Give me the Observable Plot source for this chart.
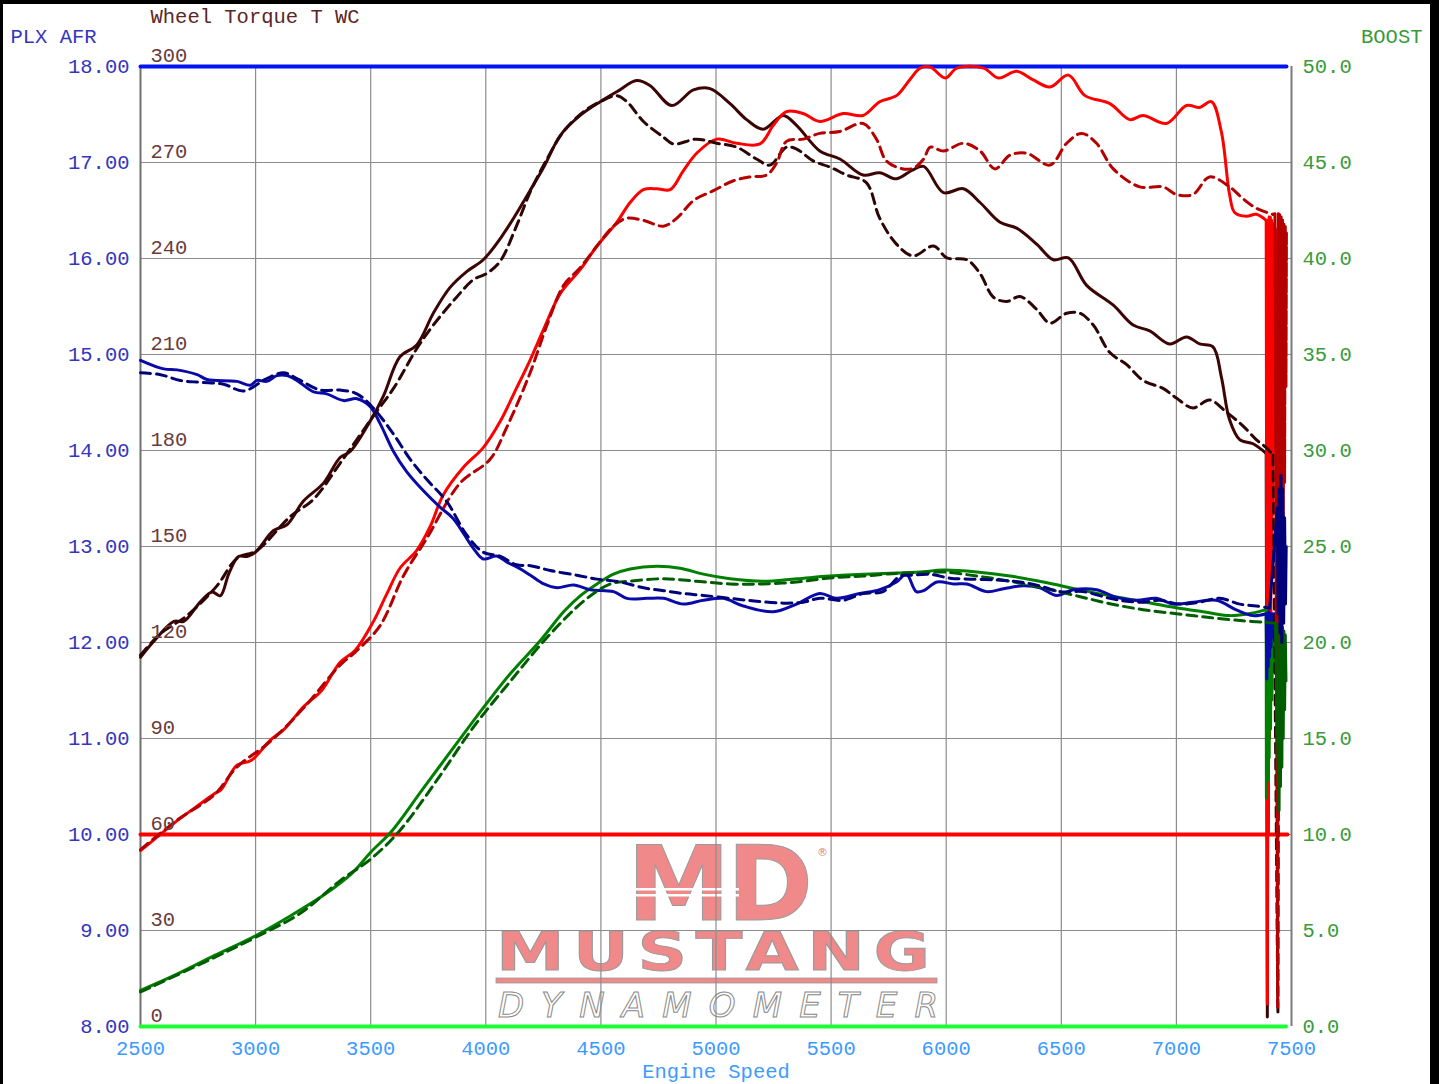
<!DOCTYPE html>
<html><head><meta charset="utf-8">
<script src="https://cdn.jsdelivr.net/npm/d3@7"></script>
<script src="https://cdn.jsdelivr.net/npm/@observablehq/plot@0.6"></script>
<style>
html,body{margin:0;padding:0;background:#000;width:1439px;height:1084px;overflow:hidden;}
#page{position:absolute;left:3px;top:4px;width:1427px;height:1080px;background:#fff;overflow:hidden;}
#logo{position:absolute;left:0;top:0;}
#chart{position:absolute;left:0;top:0;}
</style></head><body>
<div id="page">
<svg id="logo" width="1427" height="1080">
  <text x="624" y="916" font-family="DejaVu Sans" font-weight="bold" font-size="104" textLength="186" lengthAdjust="spacing" fill="#f08a8a" stroke="#9a9a9a" stroke-width="1">MD</text>
  <rect x="624" y="884" width="112" height="2.5" fill="#fff"/>
  <rect x="624" y="890" width="112" height="2.5" fill="#fff"/>
  <text x="814" y="852" font-family="DejaVu Sans" font-size="11" fill="#e08080">®</text>
  <g transform="translate(493,966) scale(1.3,1)">
    <text x="0" y="0" font-family="DejaVu Sans" font-weight="600" font-size="53" letter-spacing="6.5" fill="#f08a8a" stroke="#999" stroke-width="0.9">MUSTANG</text>
  </g>
  <rect x="493" y="974" width="441" height="5" fill="#f08a8a" stroke="#999" stroke-width="0.8"/>
  <text x="495" y="1013" font-family="DejaVu Sans" font-style="italic" font-size="34" textLength="440" lengthAdjust="spacing" fill="#fff" stroke="#888" stroke-width="1">DYNAMOMETER</text>
</svg>
<div id="chart"></div>
</div>
<script>
// ---- tick values ----
const rpmTicks = [2500,3000,3500,4000,4500,5000,5500,6000,6500,7000,7500];
const afrTicks = [8,9,10,11,12,13,14,15,16,17,18];
const torqueTicks = [0,30,60,90,120,150,180,210,240,270,300];
const boostTicks = [0,5,10,15,20,25,30,35,40,45,50];

// ---- Wheel torque (run 1 solid, run 2 dashed) ----
const torqueRun1 = [[2500,115.4],[2558,120.4],[2645,126.6],[2688,126.6],[2760,132.7],[2811,135.8],[2847,134.6],[2883,141.4],[2926,146.9],[2963,146.9],[2999,148.2],[3078,155.0],[3136,156.8],[3208,164.2],[3295,169.8],[3367,177.8],[3411,179.7],[3497,189.1],[3555,197.0],[3627,209.3],[3700,213.0],[3772,222.9],[3844,230.9],[3917,235.9],[3989,239.6],[4076,247.6],[4192,261.2],[4252,268.6],[4324,278.5],[4410,284.7],[4497,289.0],[4569,292.1],[4656,295.6],[4714,294.0],[4808,287.8],[4902,292.7],[4974,293.1],[5061,288.4],[5133,283.4],[5205,280.4],[5292,284.7],[5350,281.6],[5451,273.6],[5538,271.1],[5639,266.1],[5711,266.8],[5784,264.9],[5850,267.5],[5902,268.8],[5988,260.6],[6075,261.8],[6147,257.5],[6234,251.3],[6306,249.5],[6393,244.5],[6465,239.6],[6531,240.2],[6610,231.6],[6726,225.4],[6812,219.2],[6884,217.4],[6971,213.3],[7044,215.5],[7101,213.3],[7159,212.4],[7195,203.1],[7231,189.6],[7275,183.4],[7333,182.1],[7390,179.1]];
const torqueRun1Tail = [[7390,179.1],[7395,3],[7400,180]];
const torqueRun2 = [[2500,116],[2587,122.8],[2702,128.4],[2832,137.7],[2919,146.3],[3006,148.8],[3150,159.3],[3252,164.8],[3367,176.0],[3512,190.8],[3599,199.4],[3700,211.8],[3772,219.2],[3873,227.9],[3946,233.4],[4003,235.3],[4061,239.0],[4133,250.1],[4194,261],[4266,271.1],[4338,279.7],[4425,285.9],[4497,289.0],[4569,290.9],[4613,289.0],[4685,282.8],[4772,277.9],[4815,275.8],[4916,277.3],[5003,276.0],[5090,274.8],[5176,271.1],[5234,269.2],[5306,274.8],[5350,274.2],[5422,270.5],[5494,268.6],[5567,266.1],[5653,263.7],[5711,252.6],[5784,244.5],[5856,240.8],[5945,243.9],[6003,240.2],[6090,239.6],[6147,235.3],[6205,227.9],[6263,226.6],[6321,228.1],[6393,224.1],[6451,219.8],[6523,222.9],[6581,222.9],[6639,219.2],[6711,210.6],[6783,206.9],[6855,201.9],[6942,199.4],[7000,196.4],[7072,193.3],[7144,195.8],[7217,192.0],[7289,187.7],[7347,183.4],[7390,180.9],[7420,178.5]];
const torqueRun2Tail = [[7420,178.5],[7441,4],[7446,178]];

// ---- Wheel power (run 1 solid, run 2 dashed), torque scale ----
const powerRun1 = [[2500,55.0],[2564,58.7],[2661,64.4],[2741,68.6],[2822,72.8],[2850,74],[2918,81.6],[2982,83.2],[3063,89.4],[3127,93.1],[3208,99.9],[3288,105.1],[3368,113.9],[3433,117.6],[3512,126.6],[3570,135.2],[3627,143.2],[3700,148.8],[3758,156.2],[3815,166.1],[3902,174.7],[3989,180.9],[4061,188.9],[4133,199.4],[4194,208.5],[4252,218.0],[4324,229.1],[4410,236.5],[4483,243.9],[4569,251.3],[4627,257.5],[4685,261.5],[4743,261.8],[4801,261.5],[4858,267.4],[4916,272.9],[5003,277.3],[5090,276.0],[5191,275.8],[5249,281.6],[5306,285.9],[5379,285.3],[5451,282.8],[5552,285.3],[5639,284.7],[5711,289.0],[5784,290.9],[5841,295.8],[5887,299.5],[5931,299.8],[5996,296.4],[6047,299.5],[6162,299.5],[6227,296.4],[6306,298.5],[6378,295.8],[6451,293.6],[6531,297.3],[6603,290.9],[6711,288.4],[6798,283.4],[6855,284.7],[6957,282.2],[7044,287.8],[7101,287.2],[7152,289.0],[7195,279.7],[7231,260.0],[7253,254.4],[7304,253.2],[7347,253.8],[7390,251.9]];
const powerRun1Tail = [[7390,251.9],[7395,7],[7398,252],[7400,60],[7403,253],[7405,90],[7408,253],[7410,110],[7413,252],[7415,140],[7418,251],[7420,160],[7423,250],[7425,180],[7428,250],[7430,200],[7433,249]];
const powerRun2 = [[2500,55.3],[2661,64.6],[2822,72.5],[2918,81],[3063,89],[3208,99.5],[3368,113],[3433,117],[3541,125.3],[3642,140.8],[3743,152.5],[3888,169.8],[4018,177.2],[4090,187.1],[4191,204],[4266,219.2],[4338,231.6],[4410,237.1],[4483,243.9],[4555,250.1],[4613,252.6],[4685,251.9],[4772,250.1],[4830,252.6],[4902,258.1],[4989,261.2],[5076,264.3],[5148,265.5],[5220,266.1],[5263,269.8],[5306,276.6],[5379,277.3],[5451,279.1],[5538,279.7],[5639,282.2],[5697,277.3],[5740,270.5],[5812,268.0],[5860,268.3],[5902,271.1],[5931,274.8],[5988,273.6],[6075,276.0],[6147,273.6],[6212,268.0],[6277,272.3],[6350,272.9],[6451,269.2],[6523,276.0],[6588,279.1],[6653,276.0],[6726,268.0],[6841,262.4],[6942,262.4],[7000,260.0],[7072,260.0],[7144,265.5],[7231,262.4],[7289,258.7],[7347,255.7],[7419,253.8]];
const powerRun2Tail = [[7419,253.8],[7428,254],[7440,6],[7443,254],[7446,80],[7449,254],[7452,110],[7455,253],[7458,130],[7461,252],[7464,150],[7467,251],[7470,170],[7473,250],[7476,200],[7478,248]];

// ---- PLX AFR (run 1 solid, run 2 dashed) ----
const afrRun1 = [[2500,14.94],[2601,14.85],[2659,14.84],[2746,14.79],[2789,14.74],[2919,14.72],[2977,14.68],[3006,14.73],[3049,14.72],[3093,14.78],[3136,14.78],[3179,14.73],[3252,14.61],[3309,14.59],[3382,14.52],[3440,14.54],[3497,14.46],[3541,14.28],[3599,13.99],[3656,13.78],[3729,13.58],[3801,13.41],[3859,13.29],[3946,12.98],[3989,12.87],[4047,12.90],[4090,12.84],[4148,12.77],[4194,12.70],[4252,12.61],[4309,12.57],[4381,12.60],[4454,12.55],[4555,12.53],[4613,12.46],[4700,12.46],[4772,12.46],[4858,12.40],[4945,12.44],[5032,12.46],[5119,12.38],[5249,12.32],[5350,12.40],[5451,12.51],[5523,12.46],[5624,12.51],[5711,12.55],[5784,12.63],[5827,12.71],[5870,12.53],[5902,12.54],[5960,12.63],[6032,12.61],[6090,12.61],[6176,12.53],[6249,12.56],[6335,12.59],[6407,12.57],[6480,12.49],[6552,12.55],[6653,12.55],[6740,12.47],[6827,12.44],[6913,12.46],[6986,12.40],[7072,12.42],[7173,12.44],[7260,12.34],[7333,12.28],[7390,12.30]];
const afrRun1Tail = [[7390,12.30],[7393,11.62],[7396,12.3],[7399,11.75],[7402,12.32],[7405,11.85],[7408,12.3],[7411,11.95],[7414,12.3],[7417,12.05],[7420,12.3],[7424,12.15],[7428,12.3]];
const afrRun2 = [[2500,14.81],[2587,14.79],[2673,14.73],[2760,14.71],[2861,14.69],[2948,14.62],[3049,14.75],[3122,14.81],[3179,14.75],[3281,14.63],[3367,14.63],[3440,14.59],[3512,14.44],[3599,14.17],[3671,13.91],[3743,13.70],[3830,13.47],[3917,13.12],[3989,12.94],[4061,12.90],[4133,12.81],[4194,12.80],[4280,12.75],[4396,12.70],[4483,12.66],[4584,12.63],[4685,12.57],[4772,12.54],[4858,12.51],[4945,12.49],[5061,12.46],[5176,12.43],[5292,12.41],[5379,12.42],[5451,12.46],[5552,12.44],[5639,12.51],[5726,12.53],[5798,12.69],[5844,12.70],[5931,12.71],[6017,12.67],[6104,12.66],[6220,12.65],[6321,12.63],[6407,12.59],[6494,12.53],[6595,12.53],[6711,12.46],[6783,12.43],[6855,12.42],[6928,12.44],[7015,12.40],[7101,12.42],[7188,12.46],[7275,12.40],[7347,12.38],[7405,12.36]];
const afrRun2Tail = [[7405,12.36],[7438,13.4],[7442,12.3],[7446,13.6],[7450,12.1],[7454,13.74],[7458,12.0],[7462,13.6],[7466,12.2],[7470,13.3],[7474,12.4],[7477,13.0]];

// ---- Boost (run 1 solid, run 2 dashed) ----
const boostRun1 = [[2500,1.88],[2661,2.74],[2822,3.70],[3002,4.74],[3143,5.70],[3304,6.91],[3417,7.96],[3502,9.1],[3593,10.2],[3722,12.3],[3883,14.9],[4002,16.8],[4108,18.4],[4237,20.1],[4338,21.6],[4410,22.43],[4483,23.05],[4555,23.56],[4627,23.83],[4743,23.97],[4844,23.87],[4945,23.56],[5061,23.32],[5205,23.19],[5350,23.32],[5494,23.46],[5639,23.56],[5784,23.62],[5885,23.67],[5988,23.77],[6133,23.67],[6277,23.46],[6422,23.15],[6567,22.78],[6711,22.43],[6855,22.12],[7000,21.81],[7116,21.6],[7231,21.4],[7333,21.54],[7390,21.71]];
const boostRun1Tail = [[7390,21.71],[7391,11.9],[7394,21.5],[7397,12.8],[7400,21.4],[7403,14],[7406,21.4],[7409,15.5],[7412,21.3],[7415,17],[7418,21.2],[7422,18.5],[7426,21]];
const boostRun2 = [[2500,1.8],[2822,3.6],[3002,4.66],[3191,5.87],[3368,7.6],[3502,8.74],[3626,10.2],[3786,12.8],[3947,15.6],[4108,18.0],[4269,20.3],[4430,22.2],[4541,23.05],[4627,23.19],[4772,23.32],[4916,23.19],[5061,23.05],[5205,23.05],[5350,23.15],[5494,23.36],[5639,23.46],[5784,23.60],[5885,23.62],[5988,23.67],[6133,23.46],[6277,23.19],[6422,22.84],[6567,22.43],[6711,22.02],[6855,21.71],[7000,21.5],[7144,21.3],[7289,21.13],[7390,21.05]];
const boostRun2Tail = [[7390,21.05],[7430,21],[7446,11.25],[7449,21],[7452,12.5],[7455,21],[7458,13.5],[7461,20.8],[7464,15],[7467,20.6],[7470,16.5],[7473,20.4],[7476,18]];

// ---- constant channels ----
const flatBlue = [[2500,18],[7478,18]];   // AFR units
const flatRed = [[2500,10],[7482,10]];
const flatGreen = [[2500,8],[7476,8]];

const X = d => d[0];
const yAfr = d => d[1];
const yTq = d => 8 + d[1] / 30;
const yBoost = d => 8 + d[1] / 5;

const W = 3, TW = 3, DASH = "10,6";
const C = {
  tq1: "#3d0404", tq2: "#2e0505",
  pw1: "#ff0000", pw2: "#b40000",
  afr1: "#0a0aa8", afr2: "#00007a",
  bs1: "#008000", bs2: "#005c00"
};
const GRID = "#8c8c8c";
const mid = {lineAnchor: "middle"};

const chart = Plot.plot({
  width: 1427, height: 1080,
  marginLeft: 137, marginRight: 139, marginTop: 62, marginBottom: 58,
  x: {domain: [2500, 7500], axis: null},
  y: {domain: [8, 18], axis: null},
  style: {background: "transparent", fontFamily: "'Liberation Mono', 'Courier New', monospace", fontSize: "20.5px", overflow: "visible"},
  marks: [
    Plot.ruleX(rpmTicks.slice(1, -1), {stroke: GRID, strokeWidth: 1.2}),
    Plot.ruleY(afrTicks.slice(1, -1), {stroke: GRID, strokeWidth: 1.2}),
    Plot.ruleX([2500], {stroke: "#707070", strokeWidth: 2}),
    Plot.ruleX([7500], {stroke: "#7a7a7a", strokeWidth: 2}),

    Plot.line(flatBlue, {x: X, y: yAfr, stroke: "#0014f0", strokeWidth: 4}),
    Plot.line(flatRed, {x: X, y: yAfr, stroke: "#ff0000", strokeWidth: 4}),
    Plot.line(flatGreen, {x: X, y: yAfr, stroke: "#1aff33", strokeWidth: 4}),

    // run 1 (solid)
    Plot.line(torqueRun1, {x: X, y: yTq, stroke: C.tq1, strokeWidth: W, curve: "catmull-rom"}),
    Plot.line(torqueRun1Tail, {x: X, y: yTq, stroke: C.tq1, strokeWidth: TW}),
    Plot.line(powerRun1, {x: X, y: yTq, stroke: C.pw1, strokeWidth: W, curve: "catmull-rom"}),
    Plot.line(powerRun1Tail, {x: X, y: yTq, stroke: C.pw1, strokeWidth: TW}),
    Plot.line(boostRun1, {x: X, y: yBoost, stroke: C.bs1, strokeWidth: W, curve: "catmull-rom"}),
    Plot.line(boostRun1Tail, {x: X, y: yBoost, stroke: C.bs1, strokeWidth: TW}),
    Plot.line(afrRun1, {x: X, y: yAfr, stroke: C.afr1, strokeWidth: W, curve: "catmull-rom"}),
    Plot.line(afrRun1Tail, {x: X, y: yAfr, stroke: C.afr1, strokeWidth: TW}),

    // run 2 (dashed)
    Plot.line(torqueRun2, {x: X, y: yTq, stroke: C.tq2, strokeWidth: W, strokeDasharray: DASH, curve: "catmull-rom"}),
    Plot.line(torqueRun2Tail, {x: X, y: yTq, stroke: C.tq2, strokeWidth: TW, strokeDasharray: DASH}),
    Plot.line(powerRun2, {x: X, y: yTq, stroke: C.pw2, strokeWidth: W, strokeDasharray: DASH, curve: "catmull-rom"}),
    Plot.line(powerRun2Tail, {x: X, y: yTq, stroke: C.pw2, strokeWidth: TW, strokeDasharray: "14,2"}),
    Plot.line(boostRun2, {x: X, y: yBoost, stroke: C.bs2, strokeWidth: W, strokeDasharray: DASH, curve: "catmull-rom"}),
    Plot.line(boostRun2Tail, {x: X, y: yBoost, stroke: C.bs2, strokeWidth: TW}),
    Plot.line(afrRun2, {x: X, y: yAfr, stroke: C.afr2, strokeWidth: W, strokeDasharray: DASH, curve: "catmull-rom"}),
    Plot.line(afrRun2Tail, {x: X, y: yAfr, stroke: C.afr2, strokeWidth: TW}),

    // axis labels
    Plot.text(afrTicks, {y: d => d, frameAnchor: "left", dx: -11, textAnchor: "end", text: d => d.toFixed(2), fill: "#3535c0", ...mid}),
    Plot.text(torqueTicks, {y: t => 8 + t / 30, frameAnchor: "left", dx: 10, dy: -11, textAnchor: "start", text: t => String(t), fill: "#6b3b3b", ...mid}),
    Plot.text(boostTicks, {y: b => 8 + b / 5, frameAnchor: "right", dx: 11, textAnchor: "start", text: b => b.toFixed(1), fill: "#3a9a3a", ...mid}),
    Plot.text(rpmTicks, {x: d => d, frameAnchor: "bottom", dy: 22, text: d => String(d), fill: "#3d9bff", ...mid}),
    Plot.text(["Engine Speed"], {frameAnchor: "bottom", dy: 45, text: d => d, fill: "#3d9bff", ...mid}),
    Plot.text(["Wheel Torque T WC"], {frameAnchor: "top-left", dx: 10, dy: -50, textAnchor: "start", text: d => d, fill: "#5c2626", ...mid}),
    Plot.text(["PLX AFR"], {frameAnchor: "top-left", dx: -130, dy: -30, textAnchor: "start", text: d => d, fill: "#3535c0", ...mid}),
    Plot.text(["BOOST"], {frameAnchor: "top-right", dx: 131, dy: -30, textAnchor: "end", text: d => d, fill: "#3a9a3a", ...mid})
  ]
});
document.getElementById("chart").appendChild(chart);
</script>
</body></html>
